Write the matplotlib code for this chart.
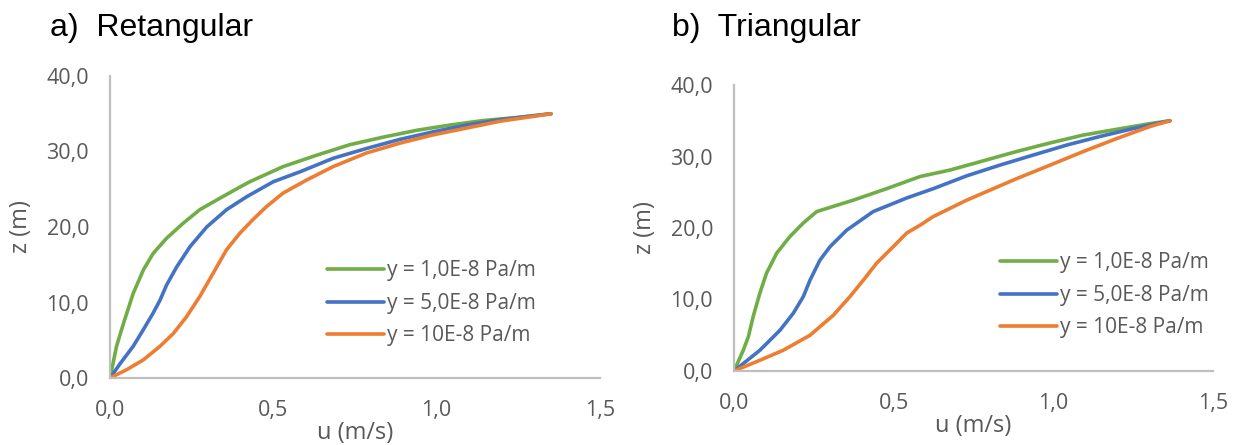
import numpy as np
import matplotlib.pyplot as plt
from matplotlib.ticker import FuncFormatter

# Perfis de velocidade u(z) - canal retangular
ret_verde_u = [0.0, 0.020, 0.041, 0.071, 0.102, 0.132, 0.173, 0.224, 0.275, 0.336, 0.398, 0.428,
               0.53, 0.632, 0.734, 0.836, 0.938, 1.04, 1.142, 1.244, 1.35]
ret_verde_z = [0.0, 4.2, 7.2, 11.2, 14.3, 16.5, 18.5, 20.5, 22.3, 23.8, 25.3, 26.0,
               28.0, 29.5, 30.9, 31.9, 32.8, 33.5, 34.1, 34.5, 35.0]
ret_azul_u = [0.0, 0.031, 0.071, 0.102, 0.132, 0.153, 0.173, 0.204, 0.245, 0.296, 0.357, 0.418,
              0.5, 0.581, 0.683, 0.785, 0.887, 0.989, 1.091, 1.193, 1.35]
ret_azul_z = [0.0, 1.9, 4.2, 6.4, 8.6, 10.3, 12.3, 14.7, 17.4, 20.0, 22.3, 24.0,
              26.0, 27.3, 29.1, 30.4, 31.6, 32.6, 33.5, 34.2, 35.0]
ret_laranja_u = [0.0, 0.051, 0.102, 0.153, 0.194, 0.234, 0.275, 0.316, 0.357, 0.398, 0.438,
                 0.479, 0.53, 0.601, 0.683, 0.785, 0.887, 0.989, 1.091, 1.193, 1.35]
ret_laranja_z = [0.0, 1.1, 2.4, 4.2, 5.9, 8.1, 10.8, 13.9, 17.0, 19.2, 21.0,
                 22.7, 24.5, 26.2, 28.0, 29.8, 31.1, 32.2, 33.1, 34.0, 35.0]

# Perfis de velocidade u(z) - canal triangular
tri_verde_u = [0.0, 0.029, 0.045, 0.06, 0.081, 0.102, 0.134, 0.175, 0.217, 0.259, 0.374, 0.478,
               0.583, 0.676, 0.781, 0.885, 0.99, 1.094, 1.198, 1.303, 1.365]
tri_verde_z = [0.0, 2.9, 4.8, 7.6, 10.9, 13.7, 16.5, 18.8, 20.7, 22.3, 23.9, 25.5,
               27.2, 28.1, 29.4, 30.7, 31.9, 33.0, 33.8, 34.6, 35.0]
tri_azul_u = [0.0, 0.081, 0.144, 0.186, 0.217, 0.238, 0.269, 0.301, 0.353, 0.436, 0.541, 0.624,
              0.729, 0.833, 0.937, 1.042, 1.146, 1.25, 1.365]
tri_azul_z = [0.0, 2.9, 5.7, 8.1, 10.4, 12.7, 15.5, 17.4, 19.7, 22.3, 24.2, 25.5,
              27.3, 28.8, 30.2, 31.6, 32.8, 33.9, 35.0]
tri_laranja_u = [0.0, 0.081, 0.154, 0.238, 0.311, 0.363, 0.405, 0.447, 0.499, 0.541, 0.583,
                 0.624, 0.729, 0.885, 0.99, 1.094, 1.198, 1.303, 1.365]
tri_laranja_z = [0.0, 1.5, 2.9, 5.0, 7.8, 10.4, 12.7, 15.1, 17.4, 19.3, 20.4,
                 21.6, 23.9, 26.9, 28.8, 30.7, 32.5, 34.2, 35.0]

legendas = ["y = 1,0E-8 Pa/m", "y = 5,0E-8 Pa/m", "y = 10E-8 Pa/m"]
cores = ["#70AD47", "#4472C4", "#ED7D31"]
cinza = "#595959"

plt.rcParams['font.family'] = ['Open Sans', 'DejaVu Sans']

fig = plt.figure(figsize=(12.43, 4.45), dpi=100)
ax1 = fig.add_axes([110/1243, 1-378/445, 490/1243, 302/445])
ax2 = fig.add_axes([734/1243, 1-371/445, 479/1243, 286/445])

virgula = FuncFormatter(lambda v, pos: ("%.1f" % v).replace(".", ","))


def desenha(ax, dados, leg_pos):
  for (u, z), cor, nome in zip(dados, cores, legendas):
    ax.plot(u, z, color=cor, lw=2.6, label=nome, solid_capstyle='round')
  ax.set_xlim(0, 1.5)
  ax.set_ylim(0, 40)
  ax.set_xticks([0, 0.5, 1.0, 1.5])
  ax.set_yticks([0, 10, 20, 30, 40])
  ax.xaxis.set_major_formatter(virgula)
  ax.yaxis.set_major_formatter(virgula)
  for s in ["top", "right"]:
    ax.spines[s].set_visible(False)
  for s in ["left", "bottom"]:
    ax.spines[s].set_color("#bfbfbf")
    ax.spines[s].set_linewidth(1.6)
  ax.tick_params(length=0, labelsize=15.5, labelcolor=cinza)
  ax.tick_params(axis='x', pad=16)
  ax.tick_params(axis='y', pad=15)
  ax.set_xlabel("u (m/s)", fontsize=17, color=cinza, labelpad=0)
  ax.set_ylabel("z (m)", fontsize=17, color=cinza, labelpad=10)
  ax.legend(loc='upper left', bbox_to_anchor=leg_pos, bbox_transform=fig.transFigure,
            frameon=False, fontsize=15, handlelength=2.7, handletextpad=0.15,
            labelspacing=0.55, borderpad=0, labelcolor=cinza)


desenha(ax1, [(ret_verde_u, ret_verde_z), (ret_azul_u, ret_azul_z),
              (ret_laranja_u, ret_laranja_z)], (317/1243, 1-250/445))
desenha(ax2, [(tri_verde_u, tri_verde_z), (tri_azul_u, tri_azul_z),
              (tri_laranja_u, tri_laranja_z)], (990/1243, 1-242/445))

fig.text(50/1243, 1-28/445, "a)  Retangular", fontsize=23, family='Liberation Sans',
         va='center', ha='left')
fig.text(672/1243, 1-28/445, "b)  Triangular", fontsize=23, family='Liberation Sans',
         va='center', ha='left')

fig.savefig("out.png", dpi=100)
